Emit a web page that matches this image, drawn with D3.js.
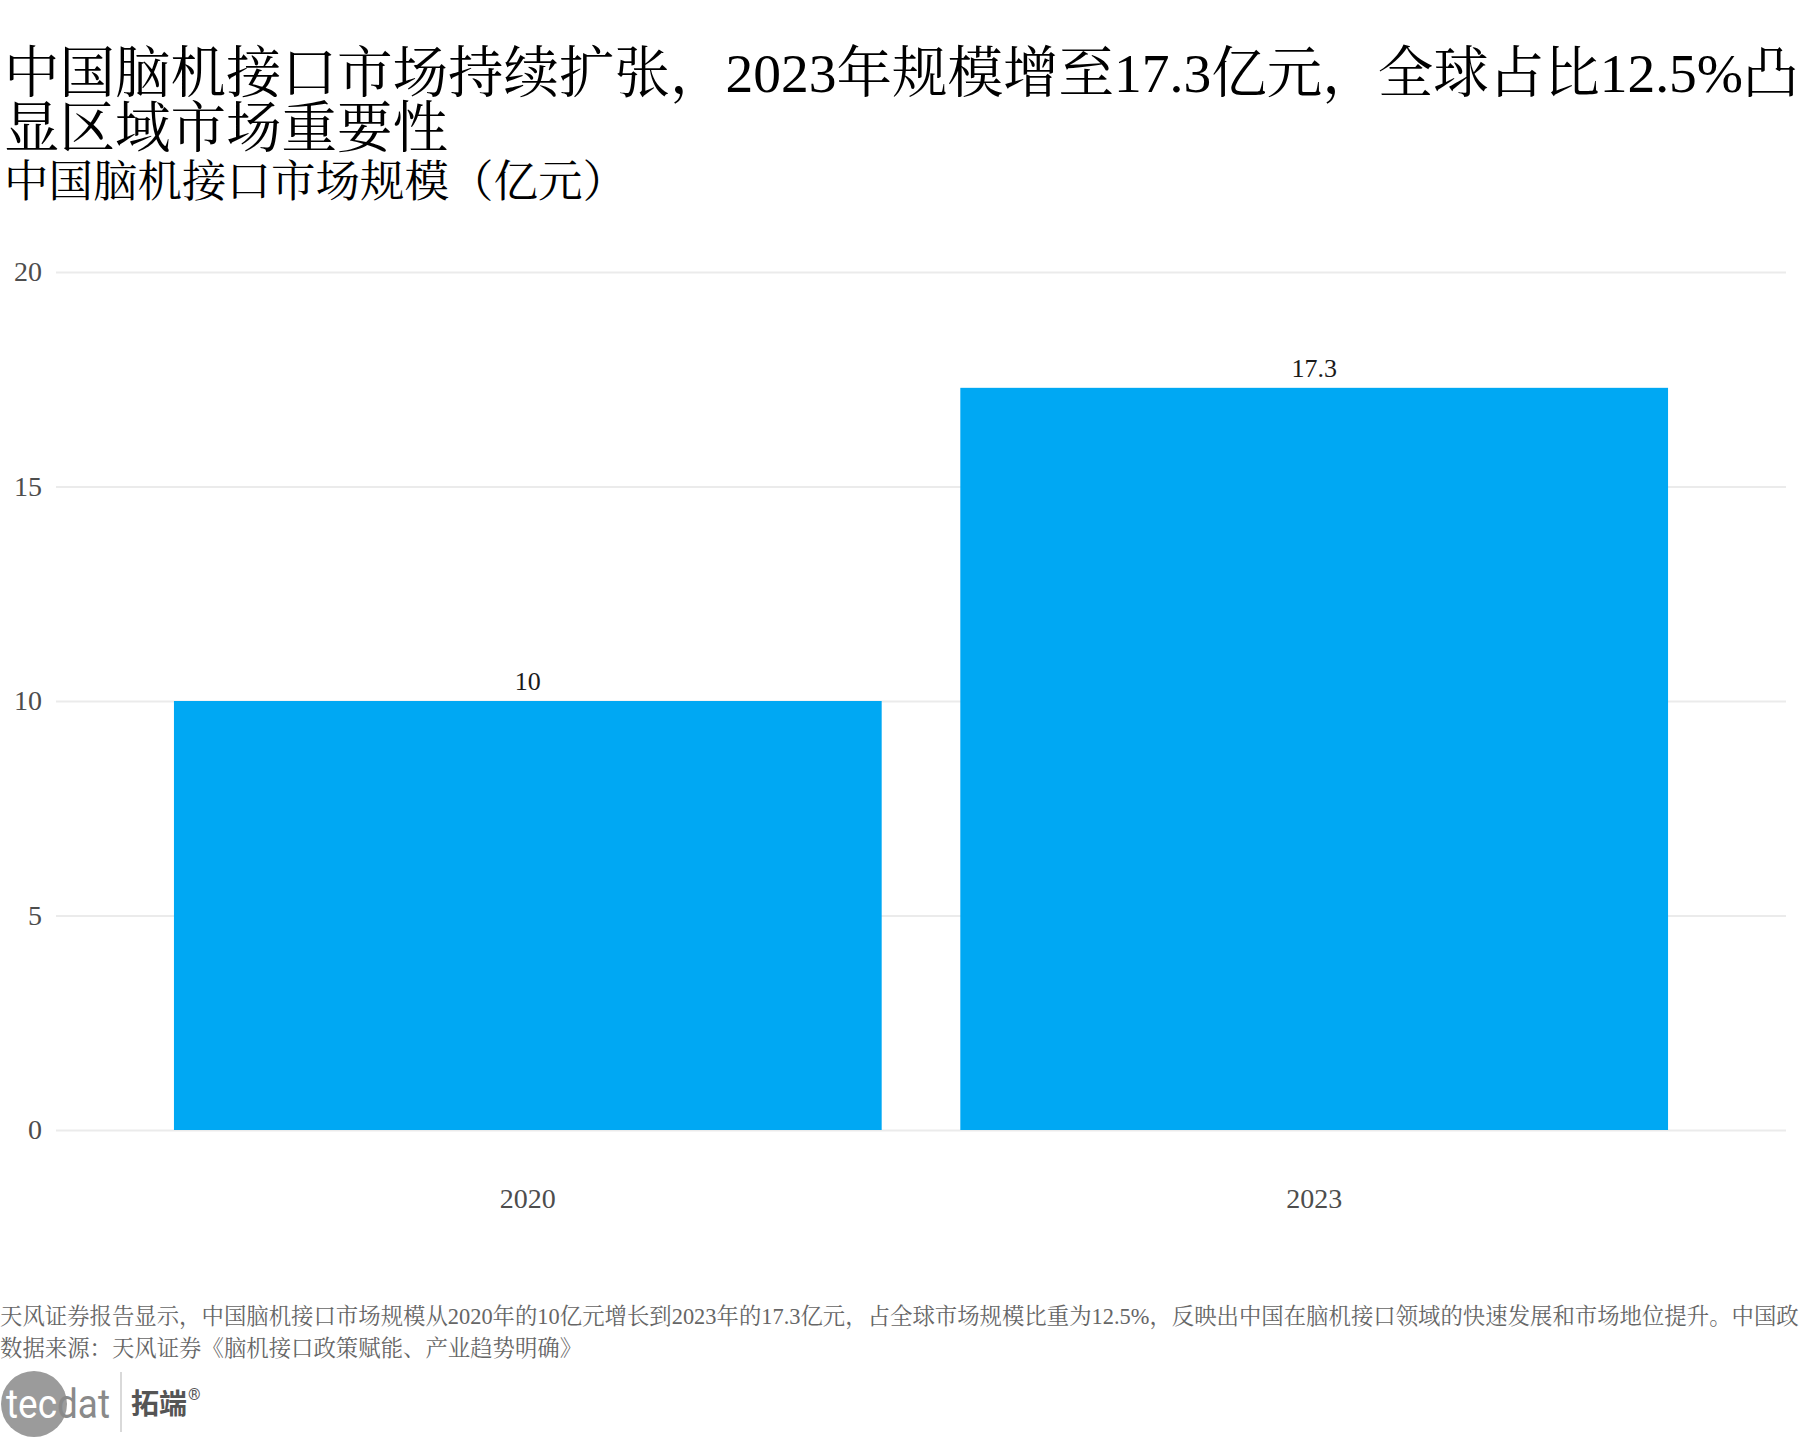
<!DOCTYPE html>
<html>
<head>
<meta charset="utf-8">
<script src="https://cdn.jsdelivr.net/npm/d3@7"></script>
<style>
  html, body { margin: 0; padding: 0; background: #ffffff; }
</style>
</head>
<body>
<script>

// data
var years = ["2020", "2023"];
var market_size = [10, 17.3];
var y_ticks = [0, 5, 10, 15, 20];

var title_lines = [
  "中国脑机接口市场持续扩张，2023年规模增至17.3亿元，全球占比12.5%凸",
  "显区域市场重要性"
];
var subtitle = "中国脑机接口市场规模（亿元）";
var note_lines = [
  "天风证券报告显示，中国脑机接口市场规模从2020年的10亿元增长到2023年的17.3亿元，占全球市场规模比重为12.5%，反映出中国在脑机接口领域的快速发展和市场地位提升。中国政",
  "数据来源：天风证券《脑机接口政策赋能、产业趋势明确》"
];

// screen width and height
var w = 1800;
var h = 1440;

var font = '"Liberation Serif", "Noto Serif CJK SC", "Noto Sans CJK SC", serif';
var bar_color = "#00a8f3";

// plot area
var plot_left = 56;
var plot_right = 1786;
var plot_top = 272;
var plot_bottom = 1130;

var svg = d3.select("body")
            .append("svg")
            .attr("width", w)
            .attr("height", h);

svg.append("rect")
      .attr("x", 0).attr("y", 0).attr("width", w)
      .attr("height", h).style("fill", "#ffffff");

// scales
var x = d3.scaleBand()
          .domain(years)
          .range([plot_left, plot_right])
          .paddingInner(0.1)
          .paddingOuter(0.15);

var y = d3.scaleLinear()
          .domain([0, 20])
          .range([plot_bottom, plot_top]);

// title, two lines like the original
svg.append("text")
      .attr("font-family", font)
      .attr("font-size", 55.5)
      .attr("fill", "#000000")
      .selectAll("tspan")
      .data(title_lines)
      .enter().append("tspan")
      .attr("x", 4)
      .attr("y", function(d, i){ return 92 + i*55; })
      .text(function(d){ return d; });

svg.append("text")
      .attr("x", 4)
      .attr("y", 197)
      .attr("font-family", font)
      .attr("font-size", 44.5)
      .attr("fill", "#000000")
      .text(subtitle);

// y axis with gridlines, domain line hidden
var y_axis = svg.append("g")
      .attr("transform", "translate(" + plot_left + ",0)")
      .call(d3.axisLeft(y)
              .tickValues(y_ticks)
              .tickSize(-(plot_right - plot_left))
              .tickPadding(14));

y_axis.select(".domain").remove();
y_axis.selectAll(".tick line")
      .attr("stroke", "#ebebeb")
      .attr("stroke-width", 2.2);
y_axis.selectAll(".tick text")
      .attr("font-family", font)
      .attr("font-size", 28)
      .attr("fill", "#4d4d4d");

// bars
svg.selectAll(".bar")
      .data(years)
      .enter().append("rect")
      .attr("class", "bar")
      .attr("x", function(d){ return x(d); })
      .attr("y", function(d, i){ return y(market_size[i]); })
      .attr("width", x.bandwidth())
      .attr("height", function(d, i){ return y(0) - y(market_size[i]); })
      .style("fill", bar_color);

// value labels on top of the bars
svg.selectAll(".value")
      .data(years)
      .enter().append("text")
      .attr("class", "value")
      .attr("x", function(d){ return x(d) + x.bandwidth()/2; })
      .attr("y", function(d, i){ return y(market_size[i]) - 11; })
      .attr("text-anchor", "middle")
      .attr("font-family", font)
      .attr("font-size", 26)
      .attr("fill", "#1a1a1a")
      .text(function(d, i){ return market_size[i]; });

// x axis, labels only
var x_axis = svg.append("g")
      .attr("transform", "translate(0," + plot_bottom + ")")
      .call(d3.axisBottom(x).tickSize(0).tickPadding(58));

x_axis.select(".domain").remove();
x_axis.selectAll(".tick text")
      .attr("font-family", font)
      .attr("font-size", 28)
      .attr("fill", "#4d4d4d");

// note and source under the chart
svg.append("text")
      .attr("font-family", font)
      .attr("font-size", 22.4)
      .attr("fill", "#666666")
      .selectAll("tspan")
      .data(note_lines)
      .enter().append("tspan")
      .attr("x", 0)
      .attr("y", function(d, i){ return 1324 + i*32; })
      .text(function(d){ return d; });

// logo: grey disc with tecdat, divider and 拓端
var logo = svg.append("g").attr("class", "logo");

logo.append("circle")
      .attr("cx", 34).attr("cy", 1404).attr("r", 33)
      .style("fill", "#9b9b9b");

logo.append("text")
      .attr("x", 6).attr("y", 1418)
      .attr("font-family", "Roboto, sans-serif")
      .attr("font-size", 40)
      .attr("textLength", 104)
      .attr("lengthAdjust", "spacingAndGlyphs")
      .selectAll("tspan")
      .data([["tec", "#ffffff"], ["dat", "#8a8a8a"]])
      .enter().append("tspan")
      .attr("fill", function(d){ return d[1]; })
      .text(function(d){ return d[0]; });

logo.append("line")
      .attr("x1", 121).attr("x2", 121)
      .attr("y1", 1372).attr("y2", 1432)
      .attr("stroke", "#cccccc").attr("stroke-width", 1.5);

logo.append("text")
      .attr("x", 131).attr("y", 1414)
      .attr("font-family", '"Noto Sans CJK SC", sans-serif')
      .attr("font-weight", "bold")
      .attr("font-size", 28)
      .attr("fill", "#555555")
      .text("拓端");

logo.append("text")
      .attr("x", 188).attr("y", 1400)
      .attr("font-family", "Roboto, sans-serif")
      .attr("font-size", 16)
      .attr("fill", "#555555")
      .text("®");

</script>
</body>
</html>
